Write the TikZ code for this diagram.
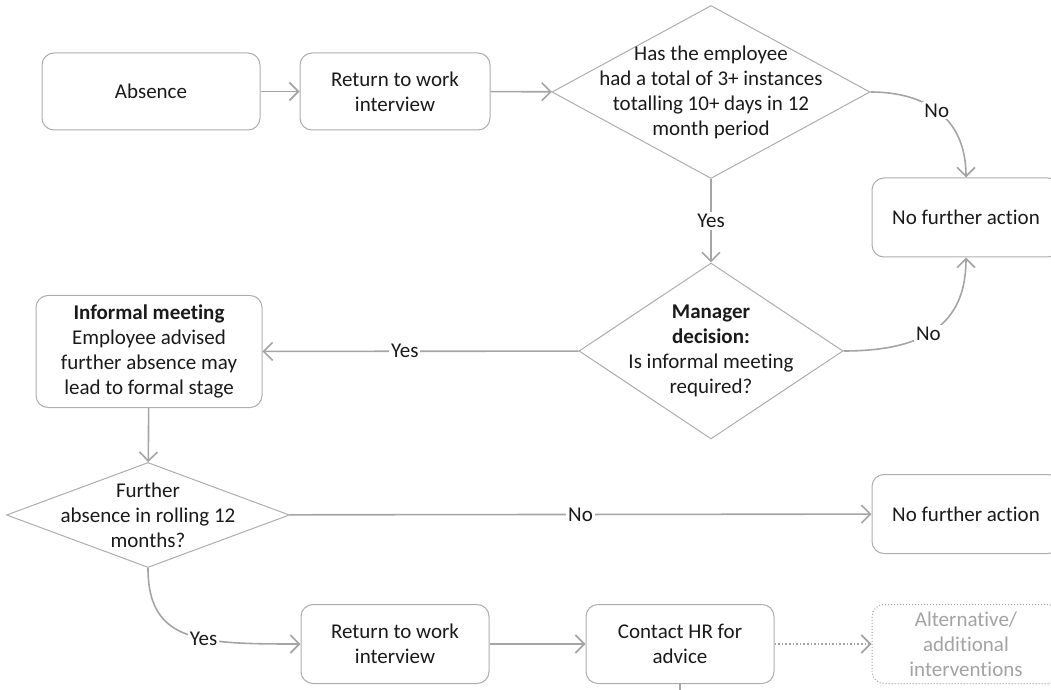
\documentclass[tikz,border=0pt]{standalone}
\usepackage{fontspec}
\setmainfont{Carlito}[RawFeature={-liga;-dlig;-clig}]
\usetikzlibrary{calc,positioning,arrows,arrows.meta,shapes}
\definecolor{lnc}{HTML}{A5A5A5}
\definecolor{bdc}{HTML}{ADADAD}
\definecolor{altc}{HTML}{A3A3A3}
\definecolor{txc}{HTML}{1A1A1A}

\begin{document}
\begin{tikzpicture}[x=0.5pt, y=-0.5pt]
\tikzstyle{box}=[draw=bdc, line width=0.5pt, rounded corners=6pt, align=center, text=txc, font=\fontsize{10.5pt}{12.5pt}\selectfont, minimum width=94pt, minimum height=39.5pt, inner sep=2pt]
\tikzstyle{dec}=[draw=bdc, line width=0.5pt, diamond, inner sep=0pt]
\tikzstyle{dtxt}=[align=center, text=txc, font=\fontsize{10.5pt}{12.5pt}\selectfont, inner sep=0pt]
\tikzstyle{arr}=[draw=lnc, line width=0.8pt, -{Straight Barb[length=4.5pt,width=9pt]}]
\tikzstyle{lbl}=[fill=white, inner sep=1pt, text=txc, font=\fontsize{10.5pt}{12.5pt}\selectfont]

\useasboundingbox (0,0) rectangle (1051,690);

% top row
\node[box, minimum width=109pt, minimum height=38.5pt] (abs) at (151,91.5) {Absence};
\node[box, minimum width=95pt, minimum height=38.5pt] (rtw) at (395,91.5) {Return to work\\interview};
\node[dec, minimum width=159pt, minimum height=86.5pt,
  label={[dtxt]center:{Has the employee\\had a total of 3+ instances\\totalling 10+ days in 12\\month period}}] (q1) at (711,92) {};
\node[box] (nfa1) at (966,217.5) {No further action};

% manager decision
\node[dec, minimum width=132pt, minimum height=88pt,
  label={[dtxt]center:{\textbf{Manager}\\\textbf{decision:}\\Is informal meeting\\required?}}] (q2) at (711,351) {};
\node[box, minimum width=113pt, minimum height=56pt] (inf) at (149,351.5) {\textbf{Informal meeting}\\Employee advised\\further absence may\\lead to formal stage};

% further absence
\node[dec, minimum width=141.5pt, minimum height=52.5pt,
  label={[dtxt]center:{Further\\absence in rolling 12\\months?}}] (q3) at (148,515) {};
\node[box] (nfa2) at (966,514) {No further action};

% bottom row
\node[box] (rtw2) at (395,644) {Return to work\\interview};
\node[box] (hr) at (680,644) {Contact HR for\\advice};
\node[box, densely dotted, draw=altc, text=altc] (alt) at (966,644) {Alternative/\\additional\\interventions};
\coordinate (stub) at (680,700);

\draw[arr] (abs) -- (rtw);
\draw[arr] (rtw) -- (q1);
\draw[arr] (q1.east) .. controls +(55,0) and +(0,-60) .. node[lbl, pos=0.48] {No} (nfa1.north);
\draw[arr] (q1) -- node[lbl] {Yes} (q2);
\draw[arr] (q2.east) .. controls +(90,0) and +(0,60) .. node[lbl, pos=0.42] {No} (nfa1.south);
\draw[arr] (q2) -- node[lbl, pos=0.55] {Yes} (inf);
\draw[arr] (inf) -- (q3);
\draw[arr] (q3) -- node[lbl] {No} (nfa2);
\draw[arr] (q3.south) .. controls +(0,75) and +(-100,0) .. node[lbl, pos=0.6] {Yes} (rtw2.west);
\draw[arr] (rtw2) -- (hr);
\draw[arr, densely dotted, draw=altc] (hr) -- (alt);
\draw[draw=lnc, line width=0.8pt] (hr.south) -- (stub);
\end{tikzpicture}
\end{document}
